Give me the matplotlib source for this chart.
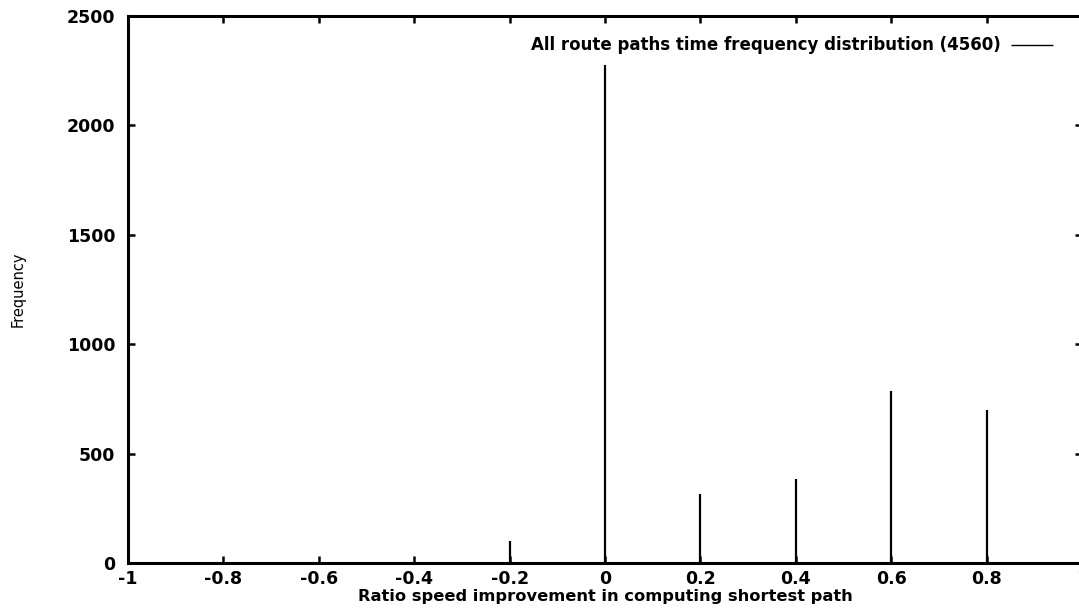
import numpy as np
import matplotlib.pyplot as plt
from matplotlib.ticker import FuncFormatter

ratios = [-0.2, 0.0, 0.2, 0.4, 0.6, 0.8]
counts = [100, 2276, 315, 384, 786, 699]
legend_label = "All route paths time frequency distribution (4560)"
xticks = [-1, -0.8, -0.6, -0.4, -0.2, 0, 0.2, 0.4, 0.6, 0.8, 1]
yticks = [0, 500, 1000, 1500, 2000, 2500]

plt.rcParams['font.family'] = ['DejaVu Sans']

fig = plt.figure(figsize=(10.79, 6.09), dpi=100)
ax = fig.add_axes([128 / 1079, 46 / 609, 954 / 1079, 547 / 609])

ax.vlines(ratios, 0, counts, colors='black', linewidth=1.6, label=legend_label)

ax.set_xlim(-1, 1)
ax.set_ylim(0, 2500)
ax.set_xticks(xticks)
ax.set_yticks(yticks)
ax.xaxis.set_major_formatter(FuncFormatter(lambda v, p: '%g' % v))
ax.yaxis.set_major_formatter(FuncFormatter(lambda v, p: '%g' % v))
ax.tick_params(direction='in', length=5, width=1.8, top=True, right=True,
               labelsize=12.5)
ax.tick_params(axis='x', pad=5)
ax.tick_params(axis='y', pad=9)
for lbl in ax.get_xticklabels() + ax.get_yticklabels():
    lbl.set_fontweight('bold')
for sp in ax.spines.values():
    sp.set_linewidth(2.2)

ax.set_xlabel('Ratio speed improvement in computing shortest path',
              fontsize=11.7, fontweight='bold', labelpad=1)
ax.set_ylabel('Frequency', fontsize=10.5, labelpad=30)

leg = ax.legend(loc='upper right', bbox_to_anchor=(0.985, 0.99), frameon=False,
                markerfirst=False, handlelength=2.5, handletextpad=0.6,
                prop={'size': 12, 'weight': 'bold'})
for h in leg.legend_handles:
    h.set_linewidth(1.0)

fig.savefig('out.png', dpi=100)
